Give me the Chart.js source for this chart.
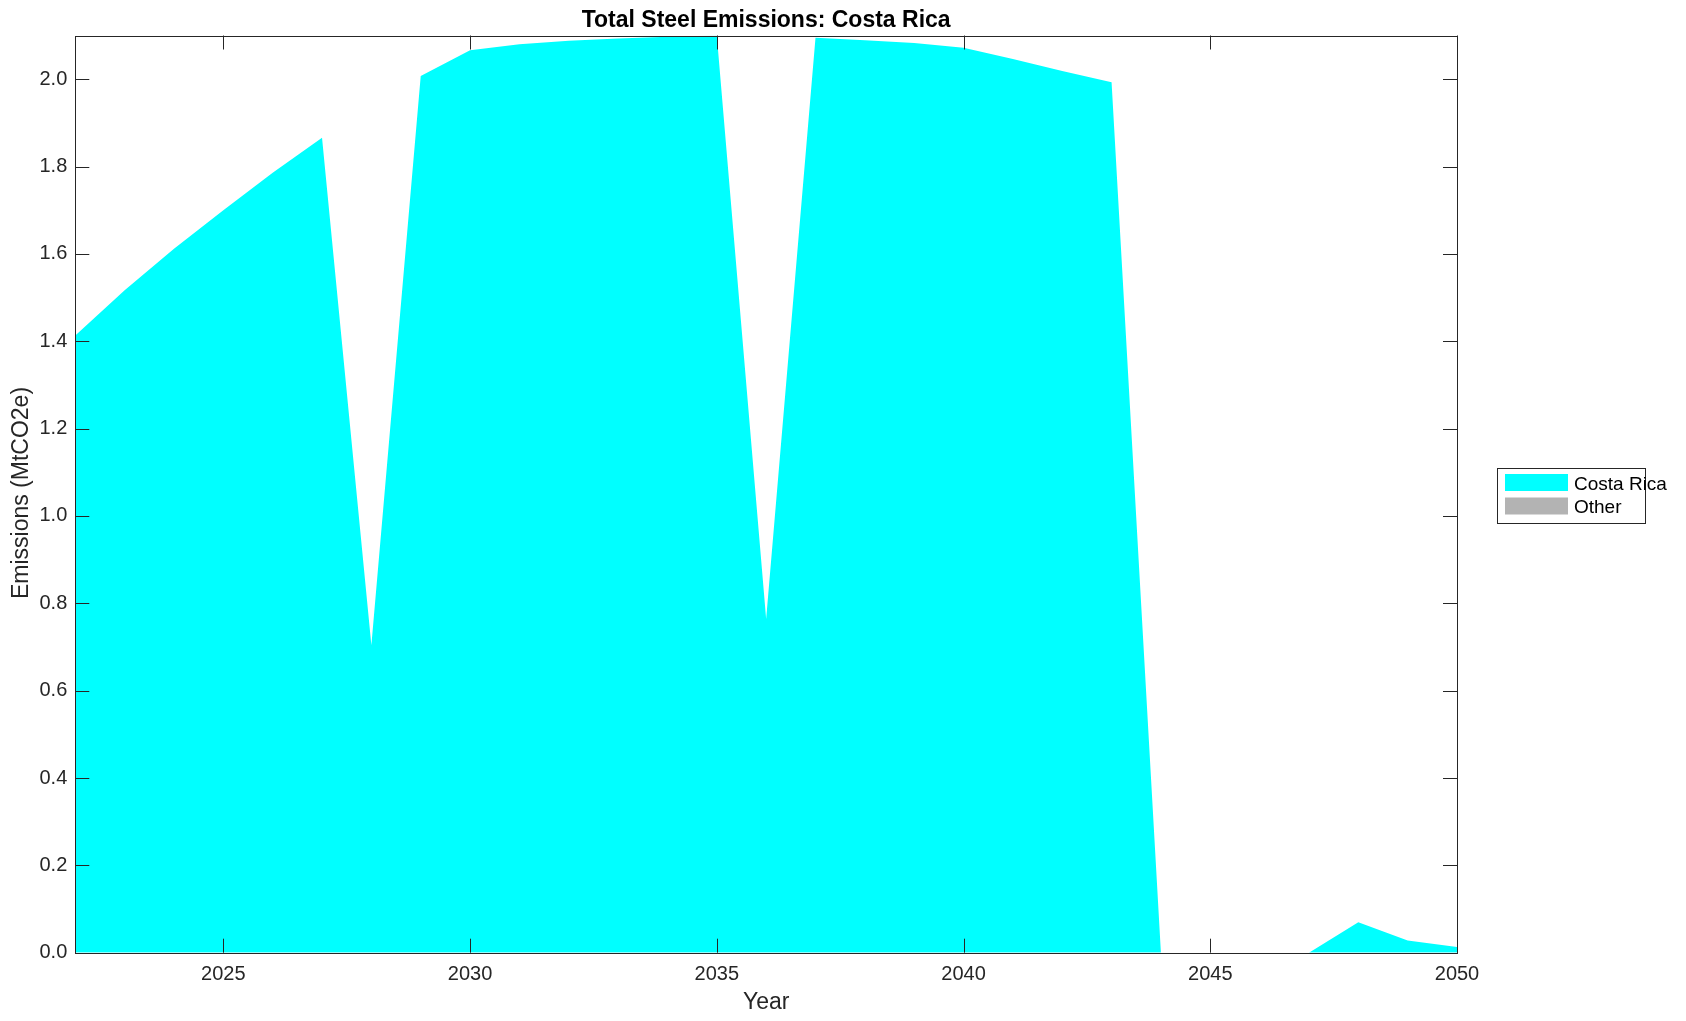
<!DOCTYPE html>
<html>
<head>
<meta charset="utf-8">
<script src="https://cdn.jsdelivr.net/npm/chart.js@4.4.1/dist/chart.umd.min.js"></script>
<style>
  html, body { margin: 0; padding: 0; background: #ffffff; }
  #wrap { width: 1686px; height: 1021px; position: relative; }
  canvas { display: block; }
</style>
</head>
<body>
<div id="wrap"><canvas id="c" width="1686" height="1021"></canvas></div>
<script>
const chartTitle = "Total Steel Emissions: Costa Rica";
const xTitle = "Year";
const yTitle = "Emissions (MtCO2e)";
const years = [2022, 2023, 2024, 2025, 2026, 2027, 2028, 2029, 2030, 2031, 2032, 2033, 2034, 2035,
               2036, 2037, 2038, 2039, 2040, 2041, 2042, 2043, 2044, 2045, 2046, 2047, 2048, 2049, 2050];
const costaRica = [1.413, 1.517, 1.612, 1.700, 1.786, 1.866, 0.704, 2.007, 2.066, 2.080, 2.088, 2.093, 2.097, 2.100,
                   0.764, 2.095, 2.089, 2.083, 2.072, 2.046, 2.019, 1.993, 0, 0, 0, 0, 0.070, 0.028, 0.013];
const other = [0, 0, 0, 0, 0, 0, 0, 0, 0, 0, 0, 0, 0, 0, 0, 0, 0, 0, 0, 0, 0, 0, 0, 0, 0, 0, 0, 0, 0];
const seriesNames = ["Costa Rica", "Other"];
const seriesColors = ["#00ffff", "#b3b3b3"];
const xTickValues = [2025, 2030, 2035, 2040, 2045, 2050];
const yTickValues = [0, 0.2, 0.4, 0.6, 0.8, 1.0, 1.2, 1.4, 1.6, 1.8, 2.0];

const FONT = "'Liberation Sans', Arial, Helvetica, sans-serif";
const AXIS_COLOR = "#262626";

const frameAndText = {
  id: 'frameAndText',
  afterDatasetsDraw(chart) {
    const ctx = chart.ctx;
    const a = chart.chartArea;
    const xs = chart.scales.x, ys = chart.scales.y;
    ctx.save();
    ctx.strokeStyle = AXIS_COLOR;
    ctx.lineWidth = 1;
    // ticks inside, mirrored
    const tl = 14;
    ctx.beginPath();
    xTickValues.forEach(v => {
      const px = Math.round(xs.getPixelForValue(v)) + 0.5;
      ctx.moveTo(px, a.bottom); ctx.lineTo(px, a.bottom - tl);
      ctx.moveTo(px, a.top); ctx.lineTo(px, a.top + tl);
    });
    yTickValues.forEach(v => {
      const py = Math.round(ys.getPixelForValue(v)) + 0.5;
      ctx.moveTo(a.left, py); ctx.lineTo(a.left + tl, py);
      ctx.moveTo(a.right, py); ctx.lineTo(a.right - tl, py);
    });
    ctx.stroke();
    // box
    ctx.strokeRect(Math.round(a.left) + 0.5, Math.round(a.top) + 0.5,
                   Math.round(a.right - a.left), Math.round(a.bottom - a.top));
    // title
    ctx.fillStyle = "#000000";
    ctx.font = "bold 23px " + FONT;
    ctx.textAlign = "center";
    ctx.textBaseline = "middle";
    ctx.fillText(chartTitle, (a.left + a.right) / 2, 21);
    // axis titles
    ctx.fillStyle = AXIS_COLOR;
    ctx.font = "23px " + FONT;
    ctx.fillText(xTitle, (a.left + a.right) / 2, 1003);
    ctx.save();
    ctx.translate(22, 493);
    ctx.rotate(-Math.PI / 2);
    ctx.fillText(yTitle, 0, 0);
    ctx.restore();
    // legend
    const lx = 1497.5, ly = 468.5, lw = 148, lh = 55;
    ctx.fillStyle = "#ffffff";
    ctx.fillRect(lx, ly, lw, lh);
    ctx.strokeStyle = AXIS_COLOR;
    ctx.strokeRect(lx, ly, lw, lh);
    ctx.font = "19px " + FONT;
    ctx.textAlign = "left";
    ctx.textBaseline = "middle";
    chart.data.datasets.forEach((ds, i) => {
      const sy = 474 + i * 23.5;
      ctx.fillStyle = ds.backgroundColor;
      ctx.fillRect(1505, sy, 63, 17);
      ctx.fillStyle = "#000000";
      ctx.fillText(ds.label, 1574, sy + 10.5);
    });
    ctx.restore();
  }
};

new Chart(document.getElementById('c'), {
  type: 'line',
  data: {
    datasets: [
      {
        label: seriesNames[0],
        data: years.map((y, i) => ({ x: y, y: costaRica[i] })),
        backgroundColor: seriesColors[0],
        borderColor: seriesColors[0],
        borderWidth: 0,
        pointRadius: 0,
        fill: 'origin',
        tension: 0
      },
      {
        label: seriesNames[1],
        data: years.map((y, i) => ({ x: y, y: other[i] })),
        backgroundColor: seriesColors[1],
        borderColor: seriesColors[1],
        borderWidth: 0,
        pointRadius: 0,
        fill: '-1',
        tension: 0
      }
    ]
  },
  options: {
    responsive: false,
    animation: false,
    events: [],
    layout: { padding: { top: 35.5, right: 229, left: 0, bottom: 0 } },
    plugins: {
      legend: { display: false },
      title: { display: false },
      tooltip: { enabled: false }
    },
    scales: {
      x: {
        type: 'linear',
        min: 2022,
        max: 2050,
        afterFit(s) { s.height = 68.3; },
        afterBuildTicks(s) { s.ticks = xTickValues.map(v => ({ value: v })); },
        grid: { display: false, drawTicks: false },
        border: { display: false },
        ticks: {
          padding: 10,
          maxRotation: 0,
          autoSkip: false,
          color: AXIS_COLOR,
          font: { family: FONT, size: 20 },
          callback: v => String(v)
        }
      },
      y: {
        type: 'linear',
        stacked: true,
        min: 0,
        max: 2.1,
        afterFit(s) { s.width = 75.3; },
        afterBuildTicks(s) { s.ticks = yTickValues.map(v => ({ value: v })); },
        grid: { display: false, drawTicks: false },
        border: { display: false },
        ticks: {
          padding: 8,
          autoSkip: false,
          color: AXIS_COLOR,
          font: { family: FONT, size: 20 },
          callback: v => Number(v).toFixed(1)
        }
      }
    }
  },
  plugins: [frameAndText]
});
</script>
</body>
</html>
